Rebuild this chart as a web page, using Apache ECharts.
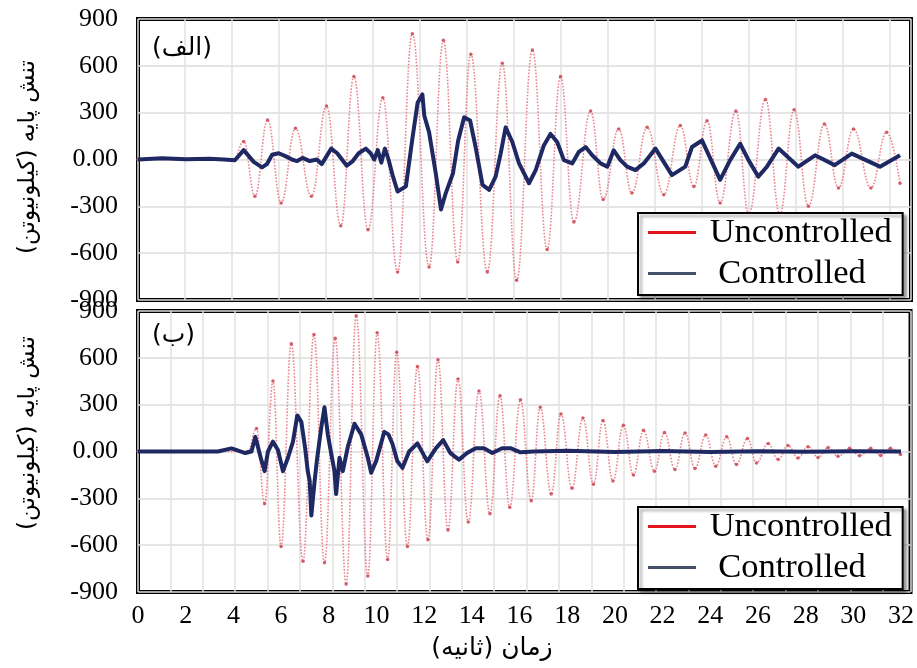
<!DOCTYPE html>
<html>
<head>
<meta charset="utf-8">
<script src="https://cdn.jsdelivr.net/npm/echarts@6/dist/echarts.min.js"></script>
<style>
html,body{margin:0;padding:0;background:#fff;}
#chart{width:917px;height:668px;}
</style>
</head>
<body>
<div id="chart"></div>
<script>
// ---- data (time [s], base shear [kN]) ----
const xTicks = [0,2,4,6,8,10,12,14,16,18,20,22,24,26,28,30,32];
const yTicks = [-900,-600,-300,0,300,600,900];

const topUncontrolled = [[0,0],[4.0,0],[4.43,116],[4.9,-236],[5.43,253],[6.0,-278],[6.6,200],[7.27,-236],[7.9,343],[8.5,-425],[9.05,532],[9.64,-450],[10.26,396],[10.88,-720],[11.5,806],[12.2,-688],[12.8,764],[13.4,-657],[13.95,674],[14.64,-720],[15.27,617],[15.87,-773],[16.53,701],[17.15,-577],[17.71,532],[18.27,-400],[18.97,311],[19.5,-257],[20.15,196],[20.7,-215],[21.34,206],[22.04,-225],[22.73,217],[23.3,-173],[23.85,248],[24.4,-278],[25.06,311],[25.6,-350],[26.3,385],[26.9,-350],[27.5,318],[28.1,-299],[28.77,227],[29.36,-183],[29.99,196],[30.72,-183],[31.38,175],[31.94,-152]];

const topControlled = [[0,0],[1.0,8],[2.0,2],[3.0,5],[3.6,0],[4.06,-5],[4.43,60],[4.85,-15],[5.2,-50],[5.4,-30],[5.62,30],[5.9,40],[6.2,20],[6.45,0],[6.67,-10],[6.9,10],[7.2,-10],[7.5,0],[7.7,-30],[7.9,20],[8.1,70],[8.35,40],[8.55,0],[8.75,-40],[9.0,-10],[9.25,40],[9.55,70],[9.75,40],[9.9,0],[10.05,60],[10.2,-20],[10.35,70],[10.5,0],[10.67,-100],[10.88,-205],[11.23,-172],[11.5,133],[11.72,364],[11.92,417],[12.0,280],[12.2,175],[12.48,-88],[12.7,-320],[12.9,-215],[13.2,-90],[13.42,122],[13.67,270],[13.92,250],[14.15,80],[14.44,-162],[14.72,-194],[14.99,-110],[15.2,38],[15.41,206],[15.69,112],[15.97,-25],[16.39,-152],[16.67,-68],[17.01,90],[17.29,164],[17.57,112],[17.85,-4],[18.2,-25],[18.48,49],[18.76,80],[19.04,27],[19.39,-25],[19.67,-46],[19.94,59],[20.22,-4],[20.5,-46],[20.85,-68],[21.2,-25],[21.69,70],[22.38,-100],[22.94,-46],[23.22,80],[23.64,122],[24.4,-130],[24.82,-4],[25.24,101],[25.59,-4],[26.0,-110],[26.36,-46],[26.85,70],[27.68,-46],[28.38,27],[29.2,-36],[29.92,38],[31.1,-46],[31.94,27]];

const bottomUncontrolled = [[0,0],[4.6,0],[4.97,147],[5.31,-335],[5.66,451],[6.0,-608],[6.43,690],[6.92,-703],[7.38,750],[7.82,-713],[8.27,725],[8.73,-849],[9.15,870],[9.64,-797],[10.03,760],[10.47,-692],[10.85,635],[11.3,-608],[11.72,545],[12.16,-566],[12.58,587],[13.0,-503],[13.42,465],[13.85,-451],[14.3,388],[14.76,-398],[15.18,357],[15.59,-357],[16.04,331],[16.49,-315],[16.87,283],[17.33,-273],[17.74,241],[18.2,-235],[18.66,214],[19.1,-210],[19.5,199],[19.92,-189],[20.36,168],[20.78,-151],[21.2,136],[21.66,-126],[22.08,121],[22.52,-115],[22.94,119],[23.36,-109],[23.81,105],[24.23,-94],[24.69,94],[25.1,-84],[25.56,84],[25.94,-73],[26.43,52],[26.85,-52],[27.26,38],[27.68,-42],[28.1,31],[28.52,-38],[28.94,25],[29.36,-31],[29.84,21],[30.26,-27],[30.73,21],[31.15,-25],[31.56,21],[31.98,-20]];

const bottomControlled = [[0,0],[3.35,0],[3.92,20],[4.2,5],[4.5,-10],[4.76,0],[4.92,94],[5.15,-42],[5.31,-126],[5.45,0],[5.66,63],[5.87,10],[6.08,-126],[6.29,-40],[6.5,63],[6.68,231],[6.85,190],[7.01,21],[7.12,-126],[7.2,-189],[7.27,-410],[7.4,-200],[7.5,-60],[7.68,147],[7.82,283],[7.96,110],[8.1,-10],[8.24,-126],[8.31,-273],[8.45,-40],[8.59,-126],[8.8,30],[9.08,178],[9.36,110],[9.64,-40],[9.78,-136],[9.99,-60],[10.33,126],[10.5,110],[10.67,50],[10.88,-63],[11.09,-105],[11.37,0],[11.72,52],[12.13,-63],[12.49,20],[12.8,73],[13.1,-10],[13.46,-52],[13.8,-10],[14.16,21],[14.51,21],[14.86,-10],[15.27,21],[15.62,21],[16.04,-5],[16.6,0],[18,5],[20,-3],[22,3],[24,-3],[26,2],[28,-2],[30,2],[32,0]];

const seriesNames = ['Uncontrolled','Controlled'];
const panelLabels = ['\u200F(الف)\u200F','\u200F(ب)\u200F'];
const yName = '\u200Fتنش پایه (کیلونیوتن)\u200F';
const xName = '\u200Fزمان (ثانیه)\u200F';

// ---- chart ----
const chart = echarts.init(document.getElementById('chart'), null, {renderer:'canvas'});
const serif = 'Liberation Serif';
const arab = 'DejaVu Sans';
const redLine = 'rgba(232,112,124,0.85)';
const redDot = 'rgba(205,70,82,0.85)';
const blueLine = '#1e2862';

function yAxis(gi){
  return {
    gridIndex: gi, type:'value', min:-900, max:900, interval:300,
    axisLine:{show:false}, axisTick:{show:false},
    axisLabel:{margin:20, fontSize:26, fontFamily:serif, color:'#000',
      formatter: v => (v === 0 ? '0.00' : String(v))},
    splitLine:{show:true, lineStyle:{color:'#dcdcdc', width:1.5}}
  };
}
function mainX(gi, showLabels){
  return {
    gridIndex: gi, type:'value', min:0, max:32.4, interval:2,
    axisLine:{show:false}, axisTick:{show:false},
    axisLabel:{show:showLabels, margin:11, fontSize:26, fontFamily:serif, color:'#000',
      formatter: v => (xTicks.indexOf(v) >= 0 ? String(v) : '')},
    splitLine:{show:false}
  };
}
function gridX(gi, max){
  return {
    gridIndex: gi, type:'value', min:0, max:max, interval:1, position:'top',
    axisLine:{show:false}, axisTick:{show:false}, axisLabel:{show:false},
    splitLine:{show:true, lineStyle:{color:'#e2e2e2', width:1.5}}
  };
}
function legend(top){
  return {
    orient:'vertical', left:638, top:top,
    padding:[2,11,4,10], itemGap:6, itemWidth:48, itemHeight:3,
    backgroundColor:'#fff', borderColor:'#000', borderWidth:2,
    shadowColor:'rgba(0,0,0,0.35)', shadowBlur:3, shadowOffsetX:3, shadowOffsetY:3,
    selectedMode:false,
    textStyle:{fontSize:34.5, fontFamily:serif, color:'#000'},
    formatter: n => (n === 'Controlled' ? '  ' + n : ' ' + n),
    data:[
      {name:seriesNames[0], icon:'rect', itemStyle:{color:'#e4141c'}},
      {name:seriesNames[1], icon:'rect', itemStyle:{color:'#46506a'}}
    ]
  };
}
function redSeries(xi, yi, data){
  return {
    name: seriesNames[0], type:'line', xAxisIndex:xi, yAxisIndex:yi, data:data,
    smooth:0.42, smoothMonotone:'x', symbol:'circle', symbolSize:3.5, showSymbol:true,
    itemStyle:{color:redDot}, lineStyle:{color:redLine, width:1.6, type:'dotted'},
    animation:false, z:2
  };
}
function blueSeries(xi, yi, data){
  return {
    name: seriesNames[1], type:'line', xAxisIndex:xi, yAxisIndex:yi, data:data,
    smooth:false, showSymbol:false, symbol:'none',
    lineStyle:{color:blueLine, width:4, join:'round'}, animation:false, z:3
  };
}

const option = {
  backgroundColor:'#fff',
  animation:false,
  grid:[
    {left:138, top:19, width:773, height:281, show:true, borderColor:'#000', borderWidth:4, backgroundColor:'transparent'},
    {left:138, top:311, width:773, height:281, show:true, borderColor:'#000', borderWidth:4, backgroundColor:'transparent'}
  ],
  xAxis:[ mainX(0,false), mainX(1,true), gridX(0,16.45), gridX(1,23.86) ],
  yAxis:[ yAxis(0), yAxis(1) ],
  legend:[ legend(213), legend(507) ],
  title:[
    {text:panelLabels[0], left:152, top:36, padding:0, textStyle:{fontSize:25, fontWeight:'normal', fontFamily:arab, color:'#000'}},
    {text:panelLabels[1], left:152, top:323, padding:0, textStyle:{fontSize:25, fontWeight:'normal', fontFamily:arab, color:'#000'}}
  ],
  graphic:[
    {type:'text', x:28, y:157, rotation:Math.PI/2, style:{text:yName, fontSize:23, fontFamily:arab, fill:'#000', align:'center', verticalAlign:'middle'}},
    {type:'text', x:28, y:433, rotation:Math.PI/2, style:{text:yName, fontSize:23, fontFamily:arab, fill:'#000', align:'center', verticalAlign:'middle'}},
    {type:'text', x:492, y:648, style:{text:xName, fontSize:25, fontFamily:arab, fill:'#000', align:'center', verticalAlign:'middle'}}
  ],
  series:[
    redSeries(0,0,topUncontrolled),
    blueSeries(0,0,topControlled),
    redSeries(1,1,bottomUncontrolled),
    blueSeries(1,1,bottomControlled)
  ]
};
chart.setOption(option);
</script>
</body>
</html>
